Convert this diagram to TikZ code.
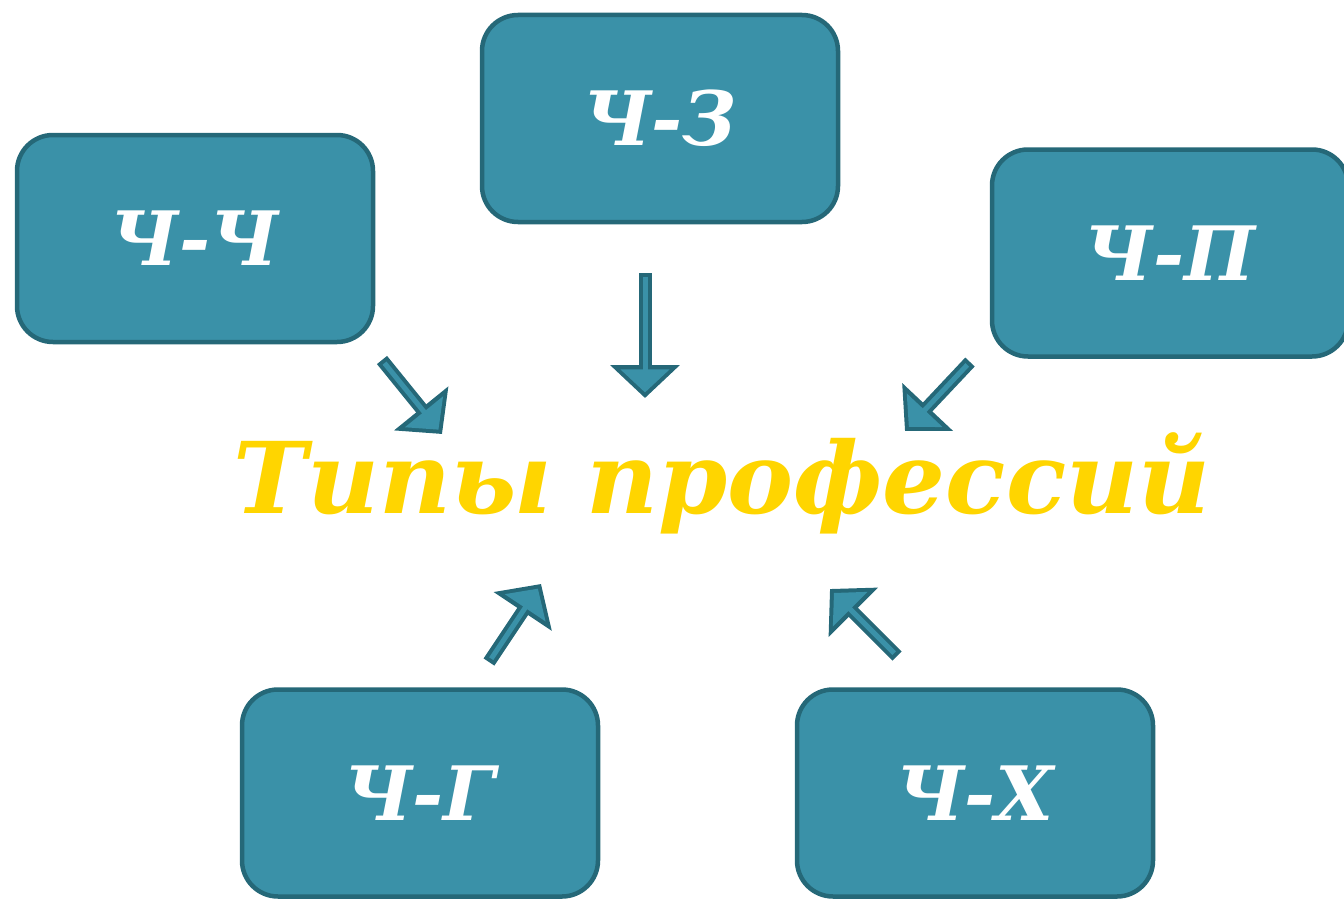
\documentclass[tikz,border=0pt]{standalone}
\usepackage{fontspec}
\setmainfont{DejaVu Serif}
\usetikzlibrary{arrows.meta}

\definecolor{boxfill}{RGB}{58,145,168}
\definecolor{boxline}{RGB}{37,104,120}
\definecolor{titlegold}{RGB}{255,213,0}

\tikzset{
  typebox/.style={draw=boxline, fill=boxfill, line width=4.5pt, rounded corners=36pt,
    minimum width=356pt, minimum height=207pt, text=white,
    font=\fontsize{75}{75}\selectfont\bfseries\itshape},
  arrowout/.style={draw=boxline, line width=13pt, -{Triangle[length=33pt,width=68pt]}},
  arrowin/.style={draw=boxfill, line width=5pt, shorten <=4pt, shorten >=5.6pt,
    -{Triangle[length=23pt,width=48pt]}}
}

\begin{document}
\begin{tikzpicture}[x=1pt,y=-1pt]

\useasboundingbox (0, 0) rectangle (1344, 899);

\node[typebox] (chz) at (660, 118.5) {Ч-З};
\node[typebox] (chch) at (195, 238.5) {Ч-Ч};
\node[typebox] (chp) at (1170, 253) {Ч-П};
\node[typebox] (chg) at (420, 793) {Ч-Г};
\node[typebox] (chx) at (975, 793) {Ч-Х};

\node[anchor=base, text=titlegold, font=\fontsize{99}{99}\selectfont\bfseries\itshape] (types) at (722, 513) {Типы профессий};

\coordinate (chch-s) at (382, 360);
\coordinate (chch-e) at (442, 434);
\coordinate (chz-s) at (645, 273);
\coordinate (chz-e) at (645, 398);
\coordinate (chp-s) at (970, 362);
\coordinate (chp-e) at (905, 431);
\coordinate (chg-s) at (489, 662);
\coordinate (chg-e) at (541, 584);
\coordinate (chx-s) at (897, 656);
\coordinate (chx-e) at (830, 589);

\draw[arrowout] (chch-s) -- (chch-e);
\draw[arrowin] (chch-s) -- (chch-e);
\draw[arrowout] (chz-s) -- (chz-e);
\draw[arrowin] (chz-s) -- (chz-e);
\draw[arrowout] (chp-s) -- (chp-e);
\draw[arrowin] (chp-s) -- (chp-e);
\draw[arrowout] (chg-s) -- (chg-e);
\draw[arrowin] (chg-s) -- (chg-e);
\draw[arrowout] (chx-s) -- (chx-e);
\draw[arrowin] (chx-s) -- (chx-e);

\end{tikzpicture}
\end{document}
